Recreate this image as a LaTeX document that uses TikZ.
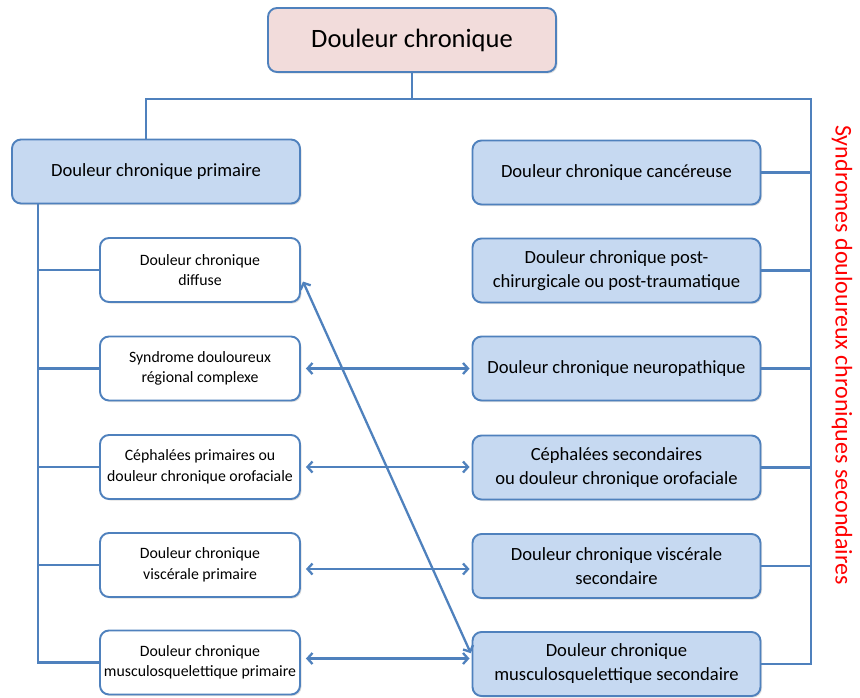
\documentclass[tikz,border=0pt]{standalone}
\usepackage{fontspec}
\setmainfont{Carlito}
\usetikzlibrary{arrows.meta}
\usetikzlibrary{shadows}
\definecolor{lineblue}{HTML}{4F81BD}
\definecolor{boxblue}{HTML}{C6D9F1}
\definecolor{boxpink}{HTML}{F2DCDB}
\definecolor{synred}{HTML}{FF0000}

\begin{document}
\begin{tikzpicture}[x=1pt,y=-1pt,
	conn/.style={lineblue,line width=2.3pt},
	twoway/.style={conn,{Straight Barb[length=5pt,width=11pt]}-{Straight Barb[length=5pt,width=11pt]},shorten <=5pt,shorten >=2pt},
	bigbox/.style={draw=lineblue,line width=1.9pt,rounded corners=9pt,fill=boxblue,minimum width=288pt,minimum height=64pt,inner xsep=1pt,align=center,font=\fontsize{18.6}{24}\selectfont,drop shadow={opacity=0.25,shadow xshift=1.5pt,shadow yshift=-1.5pt}},
	smallbox/.style={bigbox,fill=white,minimum width=200pt,font=\fontsize{15.8}{20.5}\selectfont}]
	\useasboundingbox (0,0) rectangle (860,697);
	
	\node[bigbox,fill=boxpink,font=\fontsize{26.5}{31}\selectfont] (top) at (412,40) {Douleur chronique};
	\node[bigbox] (prim) at (156,171.5) {Douleur chronique primaire};
	
	\node[smallbox] (l1) at (200,270) {Douleur chronique\\diffuse};
	\node[smallbox] (l2) at (200,368.5) {Syndrome douloureux\\régional complexe};
	\node[smallbox] (l3) at (200,467) {Céphalées primaires ou\\douleur chronique orofaciale};
	\node[smallbox] (l4) at (200,565) {Douleur chronique\\viscérale primaire};
	\node[smallbox] (l5) at (200,662.5) {Douleur chronique\\musculosquelettique primaire};
	
	\node[bigbox] (r1) at (616.5,172.5) {Douleur chronique cancéreuse};
	\node[bigbox] (r2) at (616.5,270.5) {Douleur chronique post-\\chirurgicale ou post-traumatique};
	\node[bigbox] (r3) at (616.5,368.5) {Douleur chronique neuropathique};
	\node[bigbox] (r4) at (616.5,467.5) {Céphalées secondaires\\ou douleur chronique orofaciale};
	\node[bigbox] (r5) at (616.5,566) {Douleur chronique viscérale\\secondaire};
	\node[bigbox] (r6) at (616.5,664) {Douleur chronique\\musculosquelettique secondaire};
	
	\node[synred,rotate=-90,font=\fontsize{24}{28}\selectfont] (side) at (842,355) {Syndromes douloureux chroniques secondaires};
	
	\coordinate (busL) at (146,99);
	\coordinate (busR) at (811,99);
	\coordinate (spineL) at (38,665);
	\coordinate (spineR) at (811,665);
	
	\draw[conn] (top.south) -- (top.south |- busL);
	\draw[conn] (prim.north -| busL) -- (busL) -- (busR) -- (spineR);
	\draw[conn] (prim.south -| spineL) -- (l5.west -| spineL) -- (l5.west);
	\foreach \n in {l1,l2,l3,l4}
		\draw[conn] (\n.west -| spineL) -- (\n.west);
	\foreach \n in {r1,r2,r3,r4,r5,r6}
		\draw[conn] (\n.east) -- (\n.east -| busR);
	
	\draw[twoway] (l2.east) -- (l2.east -| r3.west);
	\draw[twoway] (l3.east) -- (l3.east -| r4.west);
	\draw[twoway] ([yshift=-4pt]l4.east) -- ([yshift=-4pt]l4.east -| r5.west);
	\draw[twoway] ([yshift=4pt]l5.east) -- ([yshift=4pt]l5.east -| r6.west);
	\draw[twoway] ([yshift=-7pt]l1.east) -- ([yshift=9pt]r6.west);
	
\end{tikzpicture}
\end{document}
